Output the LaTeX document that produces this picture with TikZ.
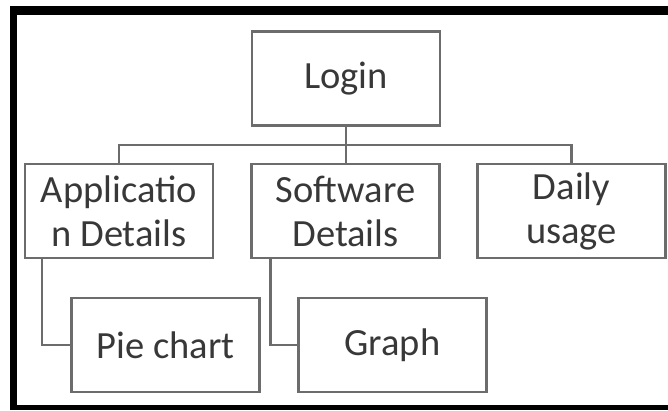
\documentclass[tikz,border=0pt]{standalone}
\usepackage{fontspec}
\setmainfont{Carlito}
\begin{document}
\begin{tikzpicture}[x=1pt,y=-1pt,
  boxline/.style={draw=boxgray, line width=2.5pt},
  box/.style={boxline, rectangle, minimum width=188pt, minimum height=94pt,
    inner sep=0pt, align=center, text=textgray,
    font=\fontsize{38.5}{44}\selectfont},
  link/.style={draw=boxgray, line width=2.5pt}]
\definecolor{boxgray}{RGB}{108,108,108}
\definecolor{textgray}{RGB}{56,56,56}
\useasboundingbox (0,0) rectangle (668,410);
\fill[white] (0,0) rectangle (668,410);
% heavy black frame (top, left, bottom)
\fill[black] (10,6) rectangle (668,15);
\fill[black] (10,6) rectangle (17,410);
\fill[black] (10,405) rectangle (668,410);

% boxes
\node[box] (login) at (346,78.5) {Login};
\node[box] (app) at (119,211) {Applicatio\\n Details};
\node[box] (soft) at (345.5,211) {Software\\Details};
\node[box] (daily) at (571.5,211) {Daily\\usage};
\node[box] (pie) at (165.5,345) {Pie chart};
\node[box] (graph) at (392.5,345) {Graph};

% tree connectors
\coordinate (bus) at (0,145);
\draw[link] (login.south) -- (login.south |- soft.north);
\draw[link] (app.north) -- (app.north |- bus) -- (daily.north |- bus) -- (daily.north);
\draw[link] ([xshift=18pt]app.south west) |- (pie.west);
\draw[link] ([xshift=20pt]soft.south west) |- (graph.west);
\end{tikzpicture}
\end{document}
